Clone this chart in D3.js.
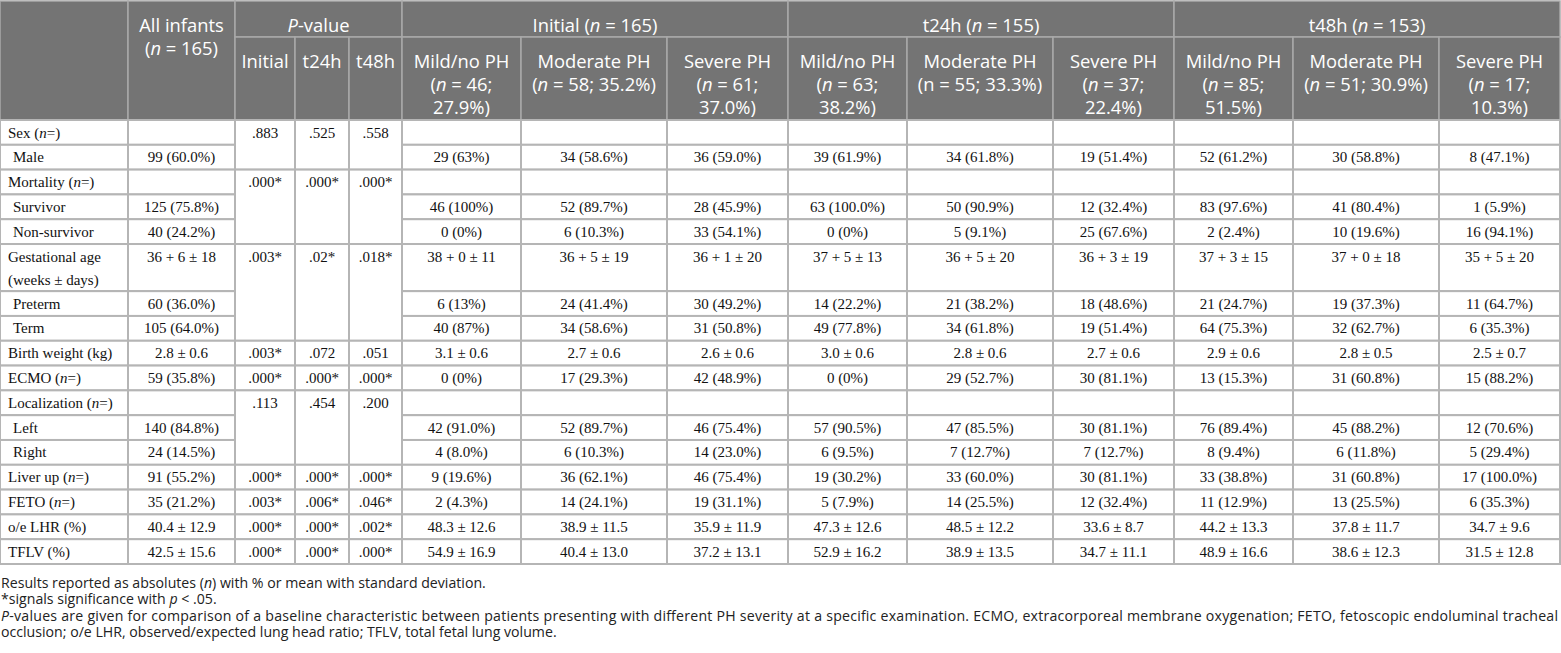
<!DOCTYPE html>
<html>
<head>
<meta charset="utf-8">
<script src="https://cdn.jsdelivr.net/npm/d3@7"></script>
<style>
  body { margin: 0; background: #fff; }
  svg { display: block; }
</style>
</head>
<body>
<svg id="table"></svg>
<script>
// ~ toggles italic inside a label, | breaks a line
const groups = ["Initial (~n~ = 165)", "t24h (~n~ = 155)", "t48h (~n~ = 153)"];
const pHeads = ["Initial", "t24h", "t48h"];
const subHeads = [
  ["Mild/no PH", "(~n~ = 46;", "27.9%)"],
  ["Moderate PH", "(~n~ = 58; 35.2%)"],
  ["Severe PH", "(~n~ = 61;", "37.0%)"],
  ["Mild/no PH", "(~n~ = 63;", "38.2%)"],
  ["Moderate PH", "(n = 55; 33.3%)"],
  ["Severe PH", "(~n~ = 37;", "22.4%)"],
  ["Mild/no PH", "(~n~ = 85;", "51.5%)"],
  ["Moderate PH", "(~n~ = 51; 30.9%)"],
  ["Severe PH", "(~n~ = 17;", "10.3%)"],
];

const rowLabels = ["Sex (~n~=)", "Male", "Mortality (~n~=)", "Survivor", "Non-survivor",
  "Gestational age|(weeks ± days)", "Preterm", "Term", "Birth weight (kg)", "ECMO (~n~=)",
  "Localization (~n~=)", "Left", "Right", "Liver up (~n~=)", "FETO (~n~=)", "o/e LHR (%)", "TFLV (%)"];
const subRow = [0, 1, 0, 1, 1, 0, 1, 1, 0, 0, 0, 1, 1, 0, 0, 0, 0];
const rowUnits = [1, 1, 1, 1, 1, 1.9, 1, 1, 1, 1, 1, 1, 1, 1, 1, 1, 1];

const allInfants = ["", "99 (60.0%)", "", "125 (75.8%)", "40 (24.2%)", "36 + 6 ± 18", "60 (36.0%)", "105 (64.0%)",
  "2.8 ± 0.6", "59 (35.8%)", "", "140 (84.8%)", "24 (14.5%)", "91 (55.2%)", "35 (21.2%)", "40.4 ± 12.9", "42.5 ± 15.6"];

const pRowStart = [0, 2, 5, 8, 9, 10, 13, 14, 15, 16];
const pRowSpan = [2, 3, 3, 1, 1, 3, 1, 1, 1, 1];
const pInitial = [".883", ".000*", ".003*", ".003*", ".000*", ".113", ".000*", ".003*", ".000*", ".000*"];
const pT24h = [".525", ".000*", ".02*", ".072", ".000*", ".454", ".000*", ".006*", ".000*", ".000*"];
const pT48h = [".558", ".000*", ".018*", ".051", ".000*", ".200", ".000*", ".046*", ".002*", ".000*"];

const initialMild = ["", "29 (63%)", "", "46 (100%)", "0 (0%)", "38 + 0 ± 11", "6 (13%)", "40 (87%)", "3.1 ± 0.6", "0 (0%)",
  "", "42 (91.0%)", "4 (8.0%)", "9 (19.6%)", "2 (4.3%)", "48.3 ± 12.6", "54.9 ± 16.9"];
const initialModerate = ["", "34 (58.6%)", "", "52 (89.7%)", "6 (10.3%)", "36 + 5 ± 19", "24 (41.4%)", "34 (58.6%)", "2.7 ± 0.6", "17 (29.3%)",
  "", "52 (89.7%)", "6 (10.3%)", "36 (62.1%)", "14 (24.1%)", "38.9 ± 11.5", "40.4 ± 13.0"];
const initialSevere = ["", "36 (59.0%)", "", "28 (45.9%)", "33 (54.1%)", "36 + 1 ± 20", "30 (49.2%)", "31 (50.8%)", "2.6 ± 0.6", "42 (48.9%)",
  "", "46 (75.4%)", "14 (23.0%)", "46 (75.4%)", "19 (31.1%)", "35.9 ± 11.9", "37.2 ± 13.1"];
const t24hMild = ["", "39 (61.9%)", "", "63 (100.0%)", "0 (0%)", "37 + 5 ± 13", "14 (22.2%)", "49 (77.8%)", "3.0 ± 0.6", "0 (0%)",
  "", "57 (90.5%)", "6 (9.5%)", "19 (30.2%)", "5 (7.9%)", "47.3 ± 12.6", "52.9 ± 16.2"];
const t24hModerate = ["", "34 (61.8%)", "", "50 (90.9%)", "5 (9.1%)", "36 + 5 ± 20", "21 (38.2%)", "34 (61.8%)", "2.8 ± 0.6", "29 (52.7%)",
  "", "47 (85.5%)", "7 (12.7%)", "33 (60.0%)", "14 (25.5%)", "48.5 ± 12.2", "38.9 ± 13.5"];
const t24hSevere = ["", "19 (51.4%)", "", "12 (32.4%)", "25 (67.6%)", "36 + 3 ± 19", "18 (48.6%)", "19 (51.4%)", "2.7 ± 0.6", "30 (81.1%)",
  "", "30 (81.1%)", "7 (12.7%)", "30 (81.1%)", "12 (32.4%)", "33.6 ± 8.7", "34.7 ± 11.1"];
const t48hMild = ["", "52 (61.2%)", "", "83 (97.6%)", "2 (2.4%)", "37 + 3 ± 15", "21 (24.7%)", "64 (75.3%)", "2.9 ± 0.6", "13 (15.3%)",
  "", "76 (89.4%)", "8 (9.4%)", "33 (38.8%)", "11 (12.9%)", "44.2 ± 13.3", "48.9 ± 16.6"];
const t48hModerate = ["", "30 (58.8%)", "", "41 (80.4%)", "10 (19.6%)", "37 + 0 ± 18", "19 (37.3%)", "32 (62.7%)", "2.8 ± 0.5", "31 (60.8%)",
  "", "45 (88.2%)", "6 (11.8%)", "31 (60.8%)", "13 (25.5%)", "37.8 ± 11.7", "38.6 ± 12.3"];
const t48hSevere = ["", "8 (47.1%)", "", "1 (5.9%)", "16 (94.1%)", "35 + 5 ± 20", "11 (64.7%)", "6 (35.3%)", "2.5 ± 0.7", "15 (88.2%)",
  "", "12 (70.6%)", "5 (29.4%)", "17 (100.0%)", "6 (35.3%)", "34.7 ± 9.6", "31.5 ± 12.8"];

const footnotes = [
  "Results reported as absolutes (~n~) with % or mean with standard deviation.",
  "*signals significance with ~p~ < .05.",
  "~P~-values are given for comparison of a baseline characteristic between patients presenting with different PH severity at a specific examination. ECMO, extracorporeal membrane oxygenation; FETO, fetoscopic endoluminal tracheal",
  "occlusion; o/e LHR, observed/expected lung head ratio; TFLV, total fetal lung volume.",
];

// layout
const W = 1561, H = 653;
const colWidths = [128, 107, 60, 54, 53, 119, 146, 121, 119, 146, 121, 119, 146, 121];
const colX = [0, ...d3.cumsum(colWidths)];
const headTop = 1, headMid = 37, bodyTop = 120, bodyBottom = 564;
const lineGap = 23;
const headFill = "#747474", headLine = "#a9a9a9", bodyLine = "#b5b5b5";
const sansFont = "'Open Sans', 'Noto Sans', sans-serif";
const serifFont = "'Liberation Serif', 'DejaVu Serif', serif";

const rowEdges = [0, ...d3.cumsum(rowUnits)];
const y = d3.scaleLinear().domain([0, d3.sum(rowUnits)]).range([bodyTop, bodyBottom]);

const svg = d3.select("svg#table").attr("width", W).attr("height", H);

function richText(sel, str) {
  str.split("~").forEach((part, i) => {
    if (!part) return;
    sel.append("tspan")
      .style("font-style", i % 2 ? "italic" : "normal")
      .text(part);
  });
}

// size a sans font so a sample string gets the width it has in the picture
function fitSize(sample, base, target) {
  let t = svg.append("text").style("font-family", sansFont).style("font-size", base + "px");
  richText(t, sample);
  let len = t.node().getComputedTextLength();
  t.remove();
  return len > 0 ? (base * target) / len : base;
}
const headSize = fitSize(groups[0], 17, 125);
const noteSize = fitSize(footnotes[3], 13, 556);

// header cells
let headCells = [
  { x0: colX[0], x1: colX[1], y0: headTop, y1: bodyTop, lines: [""] },
  { x0: colX[1], x1: colX[2], y0: headTop, y1: bodyTop, lines: ["All infants", "(~n~ = 165)"] },
  { x0: colX[2], x1: colX[5], y0: headTop, y1: headMid, lines: ["~P~-value"] },
];
pHeads.forEach((t, i) => headCells.push({ x0: colX[2 + i], x1: colX[3 + i], y0: headMid, y1: bodyTop, lines: [t] }));
groups.forEach((t, i) => headCells.push({ x0: colX[5 + i * 3], x1: colX[8 + i * 3], y0: headTop, y1: headMid, lines: [t] }));
subHeads.forEach((lines, i) => headCells.push({ x0: colX[5 + i], x1: colX[6 + i], y0: headMid, y1: bodyTop, lines }));

let head = svg.append("g").selectAll("g").data(headCells).enter().append("g");
head.append("rect")
  .attr("x", (d) => d.x0).attr("y", (d) => d.y0)
  .attr("width", (d) => d.x1 - d.x0).attr("height", (d) => d.y1 - d.y0)
  .attr("fill", headFill).attr("stroke", headLine).attr("stroke-width", 1.5);
head.each(function (d) {
  d.lines.forEach((line, li) => {
    let t = d3.select(this).append("text")
      .attr("x", (d.x0 + d.x1) / 2)
      .attr("y", d.y0 + 30.5 + li * lineGap)
      .attr("text-anchor", "middle")
      .attr("fill", "#fff")
      .style("font-family", sansFont)
      .style("font-size", headSize + "px");
    richText(t, line);
  });
});

// body cells
const bodyCols = [rowLabels, allInfants, null, null, null,
  initialMild, initialModerate, initialSevere,
  t24hMild, t24hModerate, t24hSevere,
  t48hMild, t48hModerate, t48hSevere];

let cells = [];
bodyCols.forEach((col, ci) => {
  if (!col) return;
  col.forEach((v, ri) => cells.push({ ci, r0: ri, r1: ri + 1, text: v, label: ci === 0, sub: ci === 0 && subRow[ri] }));
});
[pInitial, pT24h, pT48h].forEach((col, k) => {
  col.forEach((v, i) => cells.push({ ci: 2 + k, r0: pRowStart[i], r1: pRowStart[i] + pRowSpan[i], text: v }));
});

let body = svg.append("g").selectAll("g").data(cells).enter().append("g");
body.append("rect")
  .attr("x", (d) => colX[d.ci]).attr("y", (d) => y(rowEdges[d.r0]))
  .attr("width", (d) => colWidths[d.ci])
  .attr("height", (d) => y(rowEdges[d.r1]) - y(rowEdges[d.r0]))
  .attr("fill", "#fff").attr("stroke", bodyLine).attr("stroke-width", 2);
body.each(function (d) {
  d.text.split("|").forEach((line, li) => {
    let t = d3.select(this).append("text")
      .attr("x", d.label ? colX[d.ci] + (d.sub ? 13 : 8) : colX[d.ci] + colWidths[d.ci] / 2)
      .attr("y", y(rowEdges[d.r0]) + 17.5 + li * 23)
      .attr("text-anchor", d.label ? "start" : "middle")
      .attr("fill", "#111")
      .style("font-family", serifFont)
      .style("font-size", "15px");
    richText(t, line);
  });
});

// notes under the table
const noteY = [588, 604, 621, 637];
svg.append("g").selectAll("text").data(footnotes).enter().append("text")
  .attr("x", 1)
  .attr("y", (d, i) => noteY[i])
  .attr("fill", "#222")
  .style("font-family", sansFont)
  .style("font-size", noteSize + "px")
  .each(function (d, i) {
    let t = d3.select(this);
    richText(t, d);
    if (i === 2) t.attr("textLength", W - 4).attr("lengthAdjust", "spacing");
  });
</script>
</body>
</html>
